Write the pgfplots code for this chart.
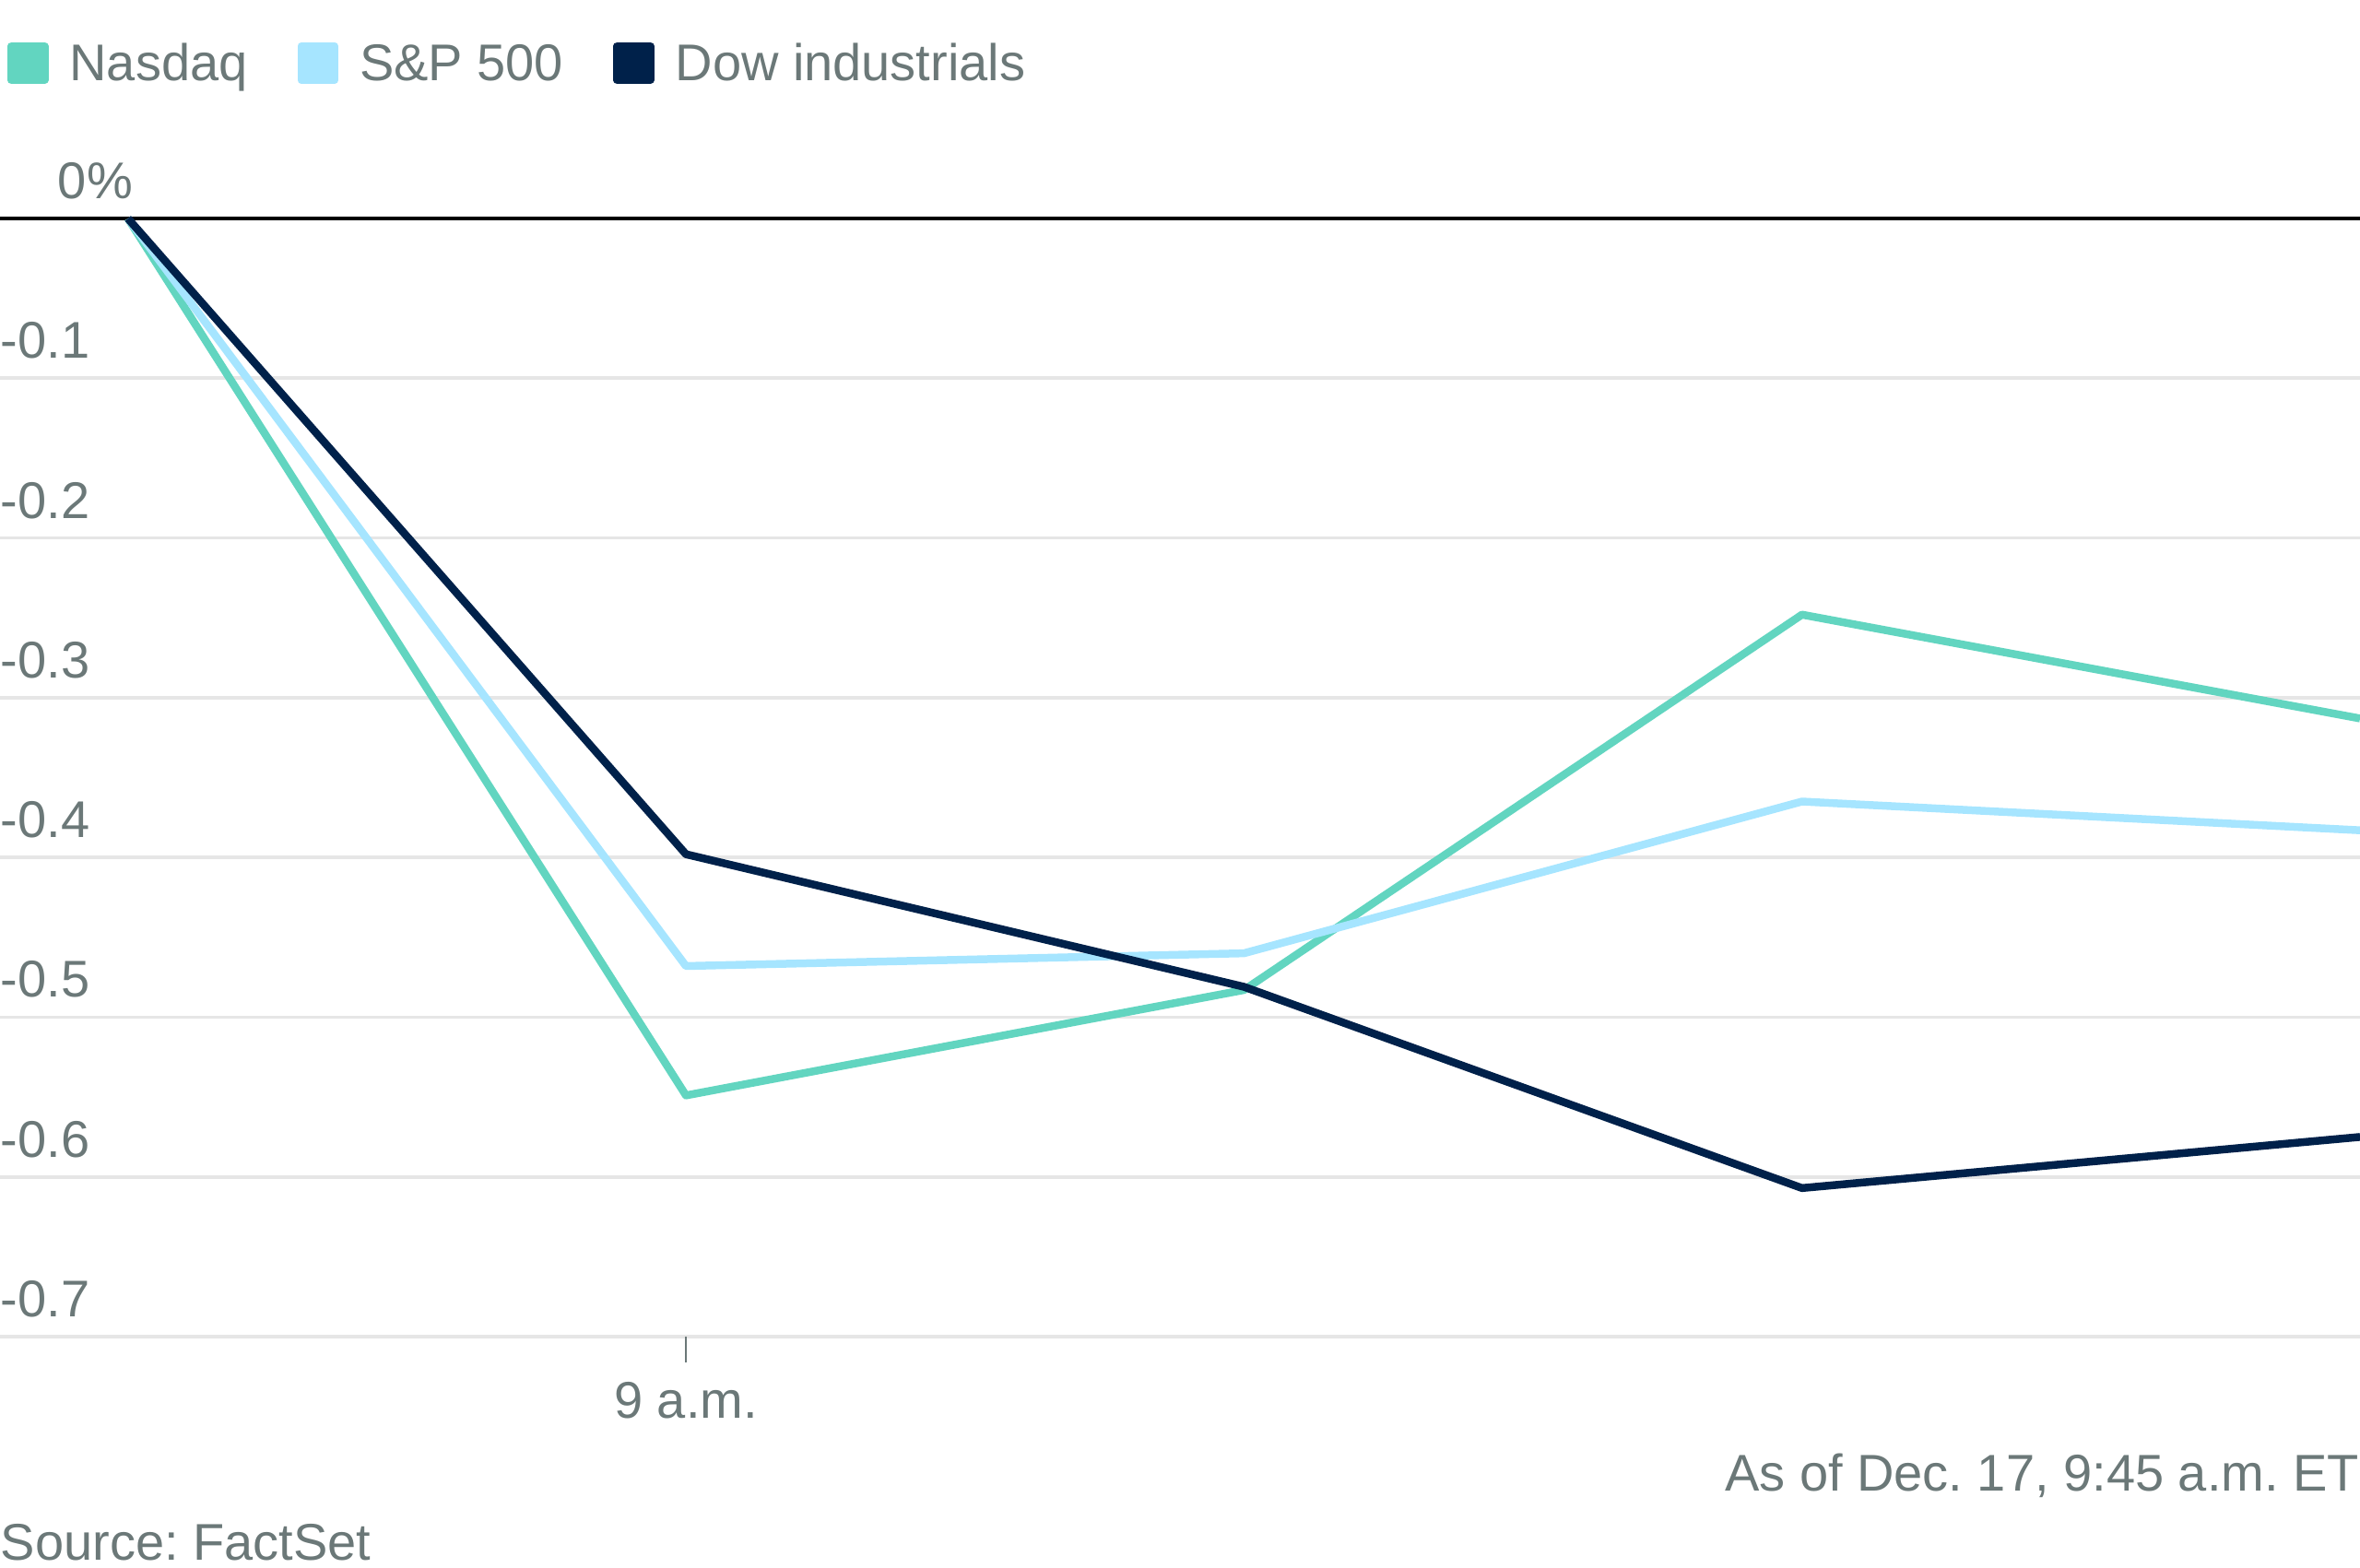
\documentclass[border=0pt]{standalone}
\usepackage{pgfplots}
\pgfplotsset{compat=1.18}
\usepackage{fontspec}
\setmainfont{Liberation Sans}
\definecolor{nasdaq}{HTML}{62D5C0}
\definecolor{spx}{HTML}{A6E5FF}
\definecolor{dow}{HTML}{00214A}
\definecolor{gridc}{HTML}{E6E6E6}
\definecolor{txt}{HTML}{6B7878}
\frenchspacing
\begin{document}
\fontsize{11.2pt}{13pt}\selectfont
\begin{tikzpicture}[font=\fontsize{11.2pt}{13pt}\selectfont]
\path[use as bounding box] (0,-50.2pt) rectangle (512pt,290pt);
\begin{axis}[
  at={(0,0)}, anchor=south west,
  width=512pt, height=242.6pt, scale only axis,
  xmin=-0.2293, xmax=4, ymin=-0.7, ymax=0,
  clip=false,
  axis line style={draw=none},
  tick align=outside, major tick length=5.6pt,
  xtick pos=bottom,
  xtick={1}, xticklabels={9 a.m.},
  xtick style={draw=txt, line width=0.5pt},
  xticklabel style={anchor=base, text=txt, inner sep=0pt, yshift=-12pt},
  ytick={-0.7,-0.6,-0.5,-0.4,-0.3,-0.2,-0.1},
  yticklabels={-0.7,-0.6,-0.5,-0.4,-0.3,-0.2,-0.1},
  ytick style={draw=none},
  yticklabel style={anchor=base west, text=txt, inner sep=0pt, xshift=5.6pt, yshift=4.3pt},
  ymajorgrids, grid style={gridc, line width=0.75pt},
  extra y ticks={0}, extra y tick labels={\hspace*{12.4pt}0\%},
  extra y tick style={grid style={black, line width=0.7pt}},
  legend columns=3,
  legend cell align=left,
  legend style={at={(axis description cs:0.003125,1.1354)}, anchor=west,
    draw=none, fill=none, inner sep=0pt, outer sep=0pt,
    nodes={inner sep=0pt, text=txt, text height=8pt, text depth=2.4pt},
    /tikz/every odd column/.style={column sep=4.6pt},
    /tikz/every even column/.style={column sep=10.8pt}},
]
\addplot[nasdaq, line width=1.7pt, line join=round,
  legend image code/.code={\fill[nasdaq] (0pt,-2.6pt) rectangle (7.2pt,4.8pt);}]
  coordinates {(0,0) (1,-0.549) (2,-0.483) (3,-0.248) (4,-0.313)};
\addlegendentry{Nasdaq}
\addplot[spx, line width=1.7pt, line join=round,
  legend image code/.code={\fill[spx] (0pt,-2.6pt) rectangle (7.2pt,4.8pt);}]
  coordinates {(0,0) (1,-0.468) (2,-0.460) (3,-0.365) (4,-0.383)};
\addlegendentry{S\&P 500}
\addplot[dow, line width=1.7pt, line join=round,
  legend image code/.code={\fill[dow] (0pt,-2.6pt) rectangle (7.2pt,4.8pt);}]
  coordinates {(0,0) (1,-0.398) (2,-0.481) (3,-0.607) (4,-0.575)};
\addlegendentry{Dow industrials}
\end{axis}
\node[anchor=base east, inner sep=0pt, text=txt] at (512pt,-33.4pt) {As of Dec. 17, 9:45 a.m. ET};
\node[anchor=base west, inner sep=0pt, text=txt] at (0pt,-48.4pt) {Source: FactSet};
\end{tikzpicture}
\end{document}
